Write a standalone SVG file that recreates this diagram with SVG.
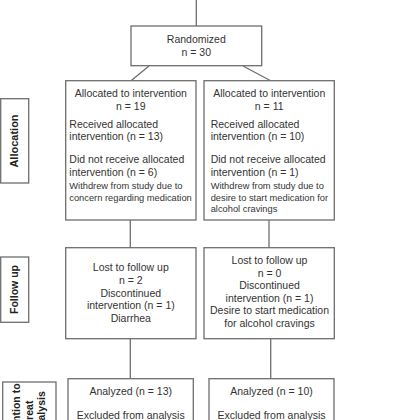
<svg xmlns="http://www.w3.org/2000/svg" width="420" height="420" viewBox="0 0 420 420">
<style>
rect{fill:#fff;stroke:#6e6e6e;stroke-width:1.3}
line{stroke:#6e6e6e;stroke-width:1.3}
text{font-family:"Liberation Sans",Arial,sans-serif;font-size:10.5px;fill:#333}
.c{text-anchor:middle}
.s{font-size:9.3px}
.lab{font-weight:bold;font-size:11px;fill:#222;text-anchor:middle}
</style>
<rect width="420" height="420" style="fill:#fff;stroke:none"/>
<g id="connectors">
<line x1="196.3" y1="0" x2="196.3" y2="26"/>
<line x1="149" y1="66" x2="131" y2="80.7"/>
<line x1="243" y1="66" x2="270.7" y2="80.7"/>
<line x1="130.3" y1="220" x2="130.3" y2="247.7"/>
<line x1="269" y1="220" x2="269" y2="247.7"/>
<line x1="130.3" y1="338.7" x2="130.3" y2="378.7"/>
<line x1="270.7" y1="338.7" x2="270.7" y2="378.7"/>
</g>
<g id="randomized">
<rect x="131" y="26" width="130.7" height="39.7"/>
<text class="c" x="196.3" y="42.7">Randomized</text>
<text class="c" x="196.3" y="55.7">n = 30</text>
</g>
<g id="alloc-left">
<rect x="65.7" y="80.7" width="130.3" height="139.3"/>
<text class="c" x="130.8" y="97">Allocated to intervention</text>
<text class="c" x="130.8" y="109.7">n = 19</text>
<text x="69.3" y="128">Received allocated</text>
<text x="69.3" y="140.4">intervention (n = 13)</text>
<text x="69.3" y="162.7">Did not receive allocated</text>
<text x="69.3" y="176">intervention (n = 6)</text>
<text class="s" x="69.3" y="189">Withdrew from study due to</text>
<text class="s" x="69.3" y="200.6">concern regarding medication</text>
</g>
<g id="alloc-right">
<rect x="204" y="80.7" width="130.3" height="139.3"/>
<text class="c" x="269.2" y="97">Allocated to intervention</text>
<text class="c" x="269.2" y="109.7">n = 11</text>
<text x="210.7" y="128">Received allocated</text>
<text x="210.7" y="140.4">intervention (n = 10)</text>
<text x="210.7" y="162.7">Did not receive allocated</text>
<text x="210.7" y="176">intervention (n = 1)</text>
<text class="s" x="210.7" y="189">Withdrew from study due to</text>
<text class="s" x="210.7" y="200.6">desire to start medication for</text>
<text class="s" x="210.7" y="211.6">alcohol cravings</text>
</g>
<g id="follow-left">
<rect x="65.7" y="247.7" width="130.3" height="91"/>
<text class="c" x="130.8" y="271.4">Lost to follow up</text>
<text class="c" x="130.8" y="284.4">n = 2</text>
<text class="c" x="130.8" y="296.6">Discontinued</text>
<text class="c" x="130.8" y="309.2">intervention (n = 1)</text>
<text class="c" x="130.8" y="322">Diarrhea</text>
</g>
<g id="follow-right">
<rect x="204" y="247.7" width="130.3" height="91"/>
<text class="c" x="269.5" y="263.7">Lost to follow up</text>
<text class="c" x="269.5" y="276.7">n = 0</text>
<text class="c" x="269.5" y="289">Discontinued</text>
<text class="c" x="269.5" y="301.9">intervention (n = 1)</text>
<text class="c" x="269.5" y="314.4">Desire to start medication</text>
<text class="c" x="269.5" y="326.7">for alcohol cravings</text>
</g>
<g id="analysis-left">
<rect x="68" y="378.7" width="125.3" height="50"/>
<text class="c" x="130.7" y="394.7">Analyzed (n = 13)</text>
<text class="c" x="130.7" y="419">Excluded from analysis</text>
</g>
<g id="analysis-right">
<rect x="209" y="378.7" width="125" height="50"/>
<text class="c" x="271.5" y="394.7">Analyzed (n = 10)</text>
<text class="c" x="271.5" y="419">Excluded from analysis</text>
</g>
<g id="label-allocation">
<rect x="0.7" y="98.7" width="28" height="84.3"/>
<text class="lab" transform="translate(18.2,141) rotate(-90)">Allocation</text>
</g>
<g id="label-followup">
<rect x="0.7" y="257" width="28" height="65.3"/>
<text class="lab" transform="translate(18.2,289.5) rotate(-90)" style="font-size:10.5px">Follow up</text>
</g>
<g id="label-itt">
<rect x="2.7" y="382" width="53.3" height="50"/>
<text class="lab" transform="translate(19.8,412) rotate(-90)" style="font-size:10.5px">Intention to</text>
<text class="lab" transform="translate(32.6,412) rotate(-90)" style="font-size:10.5px">treat</text>
<text class="lab" transform="translate(45.4,412) rotate(-90)" style="font-size:10.5px">analysis</text>
</g>
</svg>
